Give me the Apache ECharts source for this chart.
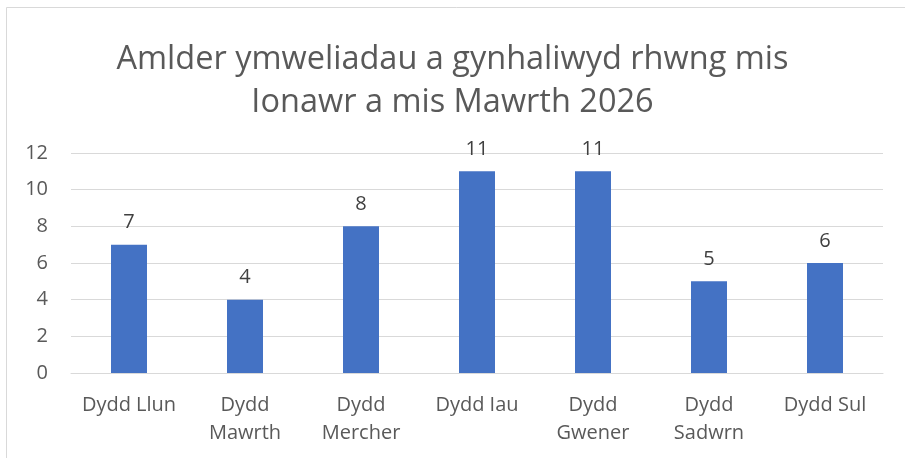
<!DOCTYPE html>
<html>
<head>
<meta charset="utf-8">
<script src="https://cdn.jsdelivr.net/npm/echarts@6/dist/echarts.min.js"></script>
<style>
html,body{margin:0;padding:0;background:#fff;}
#chart{width:905px;height:458px;}
</style>
</head>
<body>
<div id="chart"></div>
<script>
const titleText = "Amlder ymweliadau a gynhaliwyd rhwng mis\nIonawr a mis Mawrth 2026";
const categories = ["Dydd Llun", "Dydd\nMawrth", "Dydd\nMercher", "Dydd Iau", "Dydd\nGwener", "Dydd\nSadwrn", "Dydd Sul"];
const visits = [7, 4, 8, 11, 11, 5, 6];
const yMin = 0, yMax = 12, yStep = 2;

const chart = echarts.init(document.getElementById('chart'), null, {renderer: 'canvas'});
const font = "'Open Sans', sans-serif";
chart.setOption({
  animation: false,
  backgroundColor: '#ffffff',
  graphic: [{
    type: 'rect',
    shape: {x: 6.5, y: 7.5, width: 1000, height: 1000},
    style: {fill: 'none', stroke: '#d9d9d9', lineWidth: 1},
    silent: true
  }],
  title: {
    text: titleText,
    left: 'center',
    top: 33,
    textStyle: {fontFamily: font, fontSize: 32.5, fontWeight: 'normal', color: '#595959', lineHeight: 43}
  },
  grid: {left: 71, right: 22, top: 153, bottom: 85, containLabel: false},
  xAxis: {
    type: 'category',
    data: categories,
    axisLine: {show: true, lineStyle: {color: '#d9d9d9', width: 1}},
    axisTick: {show: false},
    axisLabel: {fontFamily: font, fontSize: 20, color: '#595959', margin: 18, lineHeight: 28, interval: 0}
  },
  yAxis: {
    type: 'value',
    min: yMin, max: yMax, interval: yStep,
    axisLine: {show: false},
    axisTick: {show: false},
    splitLine: {lineStyle: {color: '#d9d9d9', width: 1}},
    axisLabel: {fontFamily: font, fontSize: 20, color: '#595959', margin: 23}
  },
  series: [{
    type: 'bar',
    data: visits,
    barWidth: 36,
    itemStyle: {color: '#4472C4'},
    label: {show: true, position: 'top', distance: 12, fontFamily: font, fontSize: 20, color: '#404040'}
  }]
});
</script>
</body>
</html>
